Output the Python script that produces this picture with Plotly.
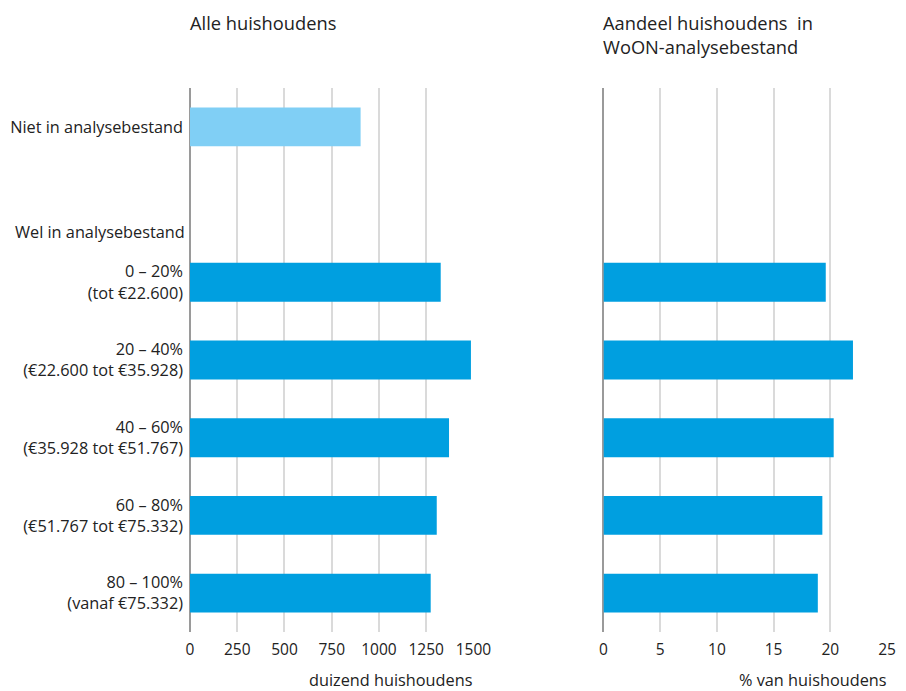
import plotly.graph_objects as go

categories = [
    "Niet in analysebestand",
    " ",
    "0 – 20%<br>(tot €22.600)",
    "20 – 40%<br>(€22.600 tot €35.928)",
    "40 – 60%<br>(€35.928 tot €51.767)",
    "60 – 80%<br>(€51.767 tot €75.332)",
    "80 – 100%<br>(vanaf €75.332)",
]
alle_huishoudens = [903, None, 1327, 1487, 1371, 1306, 1274]
aandeel_pct = [None, None, 19.6, 22.0, 20.3, 19.3, 18.9]
left_ticks = [0, 250, 500, 750, 1000, 1250, 1500]
right_ticks = [0, 5, 10, 15, 20, 25]

BLUE = "#009FE0"
LIGHT = "#80CFF5"
FONT = "Open Sans"
TXT = "#222222"

bar_colors = [LIGHT] + [BLUE] * (len(categories) - 1)

fig = go.Figure()
fig.add_trace(go.Bar(y=categories, x=alle_huishoudens, orientation="h",
                     marker=dict(color=bar_colors, line=dict(width=0)),
                     width=0.5, xaxis="x", yaxis="y", showlegend=False,
                     hoverinfo="x+y"))
fig.add_trace(go.Bar(y=categories, x=aandeel_pct, orientation="h",
                     marker=dict(color=BLUE, line=dict(width=0)),
                     width=0.5, xaxis="x2", yaxis="y2", showlegend=False,
                     hoverinfo="x+y"))

axis_common = dict(showgrid=True, gridcolor="#DADADA", gridwidth=1.5,
                   zeroline=True, zerolinecolor="#9A9A9A", zerolinewidth=1.5,
                   showline=False, ticks="", automargin=False,
                   tickfont=dict(size=15.5, color=TXT, family=FONT),
                   ticklabelstandoff=6)

# page body adds an 8px offset; figure sized so that it fills the window exactly
fig.update_layout(
    width=898, height=683,
    margin=dict(l=182, r=19.3, t=80, b=59.3),
    paper_bgcolor="white", plot_bgcolor="white",
    font=dict(family=FONT, color=TXT, size=16),
    bargap=0.5,
    xaxis=dict(domain=[0, 0.4066], range=[0, 1500], tickvals=left_ticks,
               ticktext=[str(v) for v in left_ticks], **axis_common),
    xaxis2=dict(domain=[0.5932, 1], range=[0, 25], tickvals=right_ticks,
                ticktext=[str(v) for v in right_ticks], anchor="y2", **axis_common),
    yaxis=dict(categoryorder="array", categoryarray=categories, range=[6.5, -0.5],
               showgrid=False, zeroline=False, showline=False, ticks="", automargin=False,
               tickfont=dict(size=16.3, color=TXT, family=FONT), ticklabelstandoff=6),
    yaxis2=dict(categoryorder="array", categoryarray=categories, range=[6.5, -0.5],
                anchor="x2", showgrid=False, zeroline=False, showline=False, automargin=False,
                showticklabels=False, ticks=""),
)

ann = [
    dict(text="Alle huishoudens", xref="paper", yref="paper", x=0, y=1.1213,
         xanchor="left", yanchor="middle", showarrow=False, xshift=-2,
         font=dict(size=18.3, color=TXT, family=FONT)),
    dict(text="Aandeel huishoudens  in<br>WoON-analysebestand", xref="paper", yref="paper",
         x=0.5932, y=1.098, xanchor="left", yanchor="middle", align="left", showarrow=False,
         xshift=-2, font=dict(size=18.3, color=TXT, family=FONT)),
    dict(text="duizend huishoudens", xref="x", yref="paper", x=1500, y=-0.089,
         xanchor="right", yanchor="middle", showarrow=False, xshift=2,
         font=dict(size=16.3, color=TXT, family=FONT)),
    dict(text="% van huishoudens", xref="x2", yref="paper", x=25, y=-0.089,
         xanchor="right", yanchor="middle", showarrow=False, xshift=2,
         font=dict(size=16.3, color=TXT, family=FONT)),
    dict(text="Wel in analysebestand", xref="paper", yref="y", x=0, y=1.35,
         xanchor="right", yanchor="middle", xshift=-3, showarrow=False,
         font=dict(size=16.3, color=TXT, family=FONT)),
    dict(text="pbl.nl", xref="x", yref="paper", x=1572, y=0.04, textangle=-90,
         xanchor="center", yanchor="middle", showarrow=False,
         font=dict(size=13, color="#8A8A8A", family=FONT)),
    dict(text="pbl.nl", xref="x2", yref="paper", x=26.2, y=0.04, textangle=-90,
         xanchor="center", yanchor="middle", showarrow=False,
         font=dict(size=13, color="#8A8A8A", family=FONT)),
]
fig.update_layout(annotations=ann)

fig.write_html("out.html")
